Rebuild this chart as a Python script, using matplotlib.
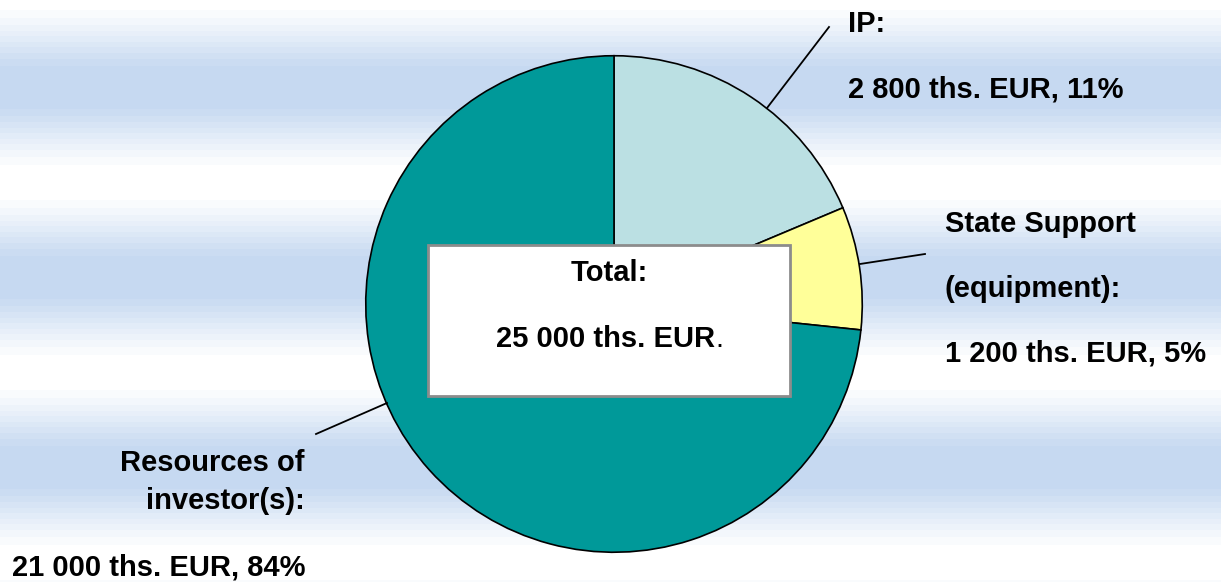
import numpy as np
import matplotlib
matplotlib.use("Agg")
import matplotlib.pyplot as plt
from matplotlib.patches import Rectangle

plt.rcParams['font.family'] = ['Liberation Sans', 'DejaVu Sans']

# slice sizes as drawn in the picture (IP, State Support, Resources of investor(s))
slice_names = ['IP', 'State Support', 'Resources of investor(s)']
slice_values = [2800, 1200, 11000]
slice_colors = ['#bbe0e3', '#ffff99', '#009999']

# label texts as printed
ip_lines = ['IP:', '2 800 ths. EUR, 11%']
state_lines = ['State Support', '(equipment):', '1 200 ths. EUR, 5%']
invest_lines = ['Resources of', 'investor(s):', '21 000 ths. EUR, 84%']
total_lines = ['Total:', '25 000 ths. EUR']

W, H = 1221, 582
fig = plt.figure(figsize=(W / 100, H / 100), dpi=100)

# striped gradient background
bg = fig.add_axes([0, 0, 1, 1], zorder=0)
y = np.arange(H)
t = (1 - np.cos(2 * np.pi * (y + 8) / 190.0)) / 2
t = np.clip(t * 1.12 - 0.04, 0, 1)
t = np.floor(t * 10 + 0.5) / 10
white = np.array([1.0, 1.0, 1.0])
blue = np.array([0xc6, 0xd9, 0xf1]) / 255.0
img = white[None, :] * (1 - t[:, None]) + blue[None, :] * t[:, None]
img = np.repeat(img[:, None, :], 2, axis=1)
bg.imshow(img, aspect='auto', extent=[0, W, H, 0])
bg.set_xlim(0, W)
bg.set_ylim(H, 0)
bg.axis('off')

# pie
cx, cy, r = 614, 304, 249
pie_ax = fig.add_axes([(cx - r) / W, (H - cy - r) / H, 2 * r / W, 2 * r / H], zorder=1)
pie_ax.pie(slice_values, colors=slice_colors, startangle=90, counterclock=False,
           wedgeprops=dict(edgecolor='black', linewidth=1.2))
pie_ax.set_xlim(-1.003, 1.003)
pie_ax.set_ylim(-1.003, 1.003)
pie_ax.axis('off')

# overlay in pixel coordinates
ov = fig.add_axes([0, 0, 1, 1], zorder=2)
ov.set_xlim(0, W)
ov.set_ylim(H, 0)
ov.axis('off')
ov.patch.set_alpha(0)

fs = 21
tk = dict(fontsize=fs, fontweight='bold', color='black', va='center')

# leader lines
ov.plot([767, 829], [108, 27], color='black', lw=1.3)
ov.plot([860, 925], [264, 254], color='black', lw=1.3)
ov.plot([387, 316], [403, 434], color='black', lw=1.3)

# IP label
ov.text(848, 24, ip_lines[0], ha='left', **tk)
ov.text(848, 89, ip_lines[1], ha='left', **tk)

# State support label
ov.text(945, 224, state_lines[0], ha='left', **tk)
ov.text(945, 289, state_lines[1], ha='left', **tk)
ov.text(945, 353, state_lines[2], ha='left', **tk)

# investor label
ov.text(305, 463, invest_lines[0], ha='right', **tk)
ov.text(305, 501, invest_lines[1], ha='right', **tk)
ov.text(305, 567, invest_lines[2], ha='right', **tk)

# total box
ov.add_patch(Rectangle((428, 245), 362, 151, facecolor='white',
                       edgecolor='#8c8c8c', linewidth=2))
ov.text(609, 273, total_lines[0], ha='center', **tk)
ov.text(715, 339, total_lines[1], ha='right', **tk)
ov.text(715, 339, '.', ha='left', fontsize=fs, color='black', va='center')

fig.savefig('out.png', dpi=100)
